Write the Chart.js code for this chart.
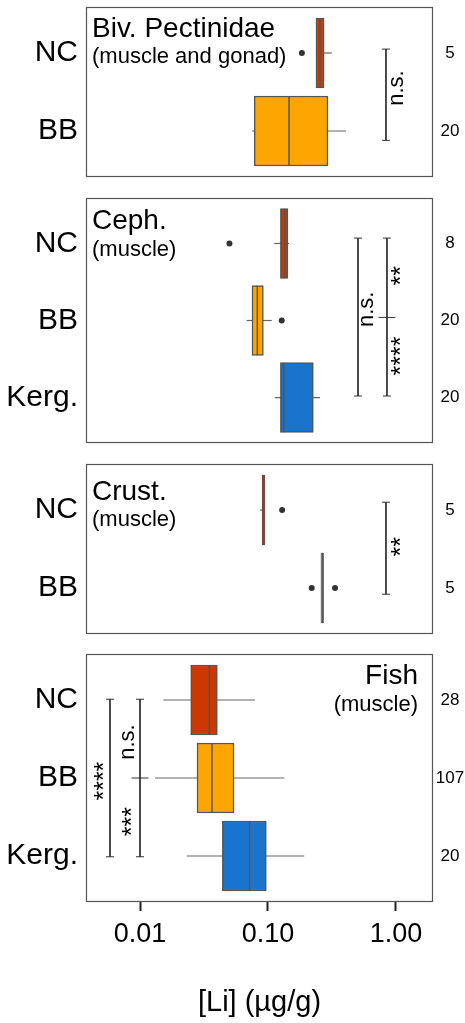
<!DOCTYPE html>
<html>
<head>
<meta charset="utf-8">
<script src="https://cdn.jsdelivr.net/npm/chart.js@4.4.1/dist/chart.umd.min.js"></script>
<style>
  html, body { margin: 0; padding: 0; background: #fff; }
  #wrap { position: relative; width: 465px; height: 1023px; }
  canvas { position: absolute; left: 0; }
</style>
</head>
<body>
<div id="wrap">
  <canvas id="biv" width="465" height="178" style="top:3px"></canvas>
  <canvas id="ceph" width="465" height="253" style="top:194px"></canvas>
  <canvas id="crust" width="465" height="178" style="top:460px"></canvas>
  <canvas id="fish" width="465" height="373" style="top:650px"></canvas>
</div>
<script>
// values (log scale, ug/g)
const xTickValues = [0.01, 0.1, 1];
const xTickLabels = ['0.01', '0.10', '1.00'];
const xAxisTitle = '[Li] (µg/g)';

// Biv. Pectinidae
const bivGroups = ['NC', 'BB'];
const bivN = [5, 20];
const bivLow = [0.237, 0.075];
const bivQ1 = [0.237, 0.078];
const bivMed = [0.255, 0.146];
const bivQ3 = [0.274, 0.294];
const bivHigh = [0.315, 0.407];
const bivOut = [[0.184], []];
const bivSig = ['n.s.'];

// Ceph.
const cephGroups = ['NC', 'BB', 'Kerg.'];
const cephN = [8, 20, 20];
const cephLow = [0.112, 0.068, 0.113];
const cephQ1 = [0.125, 0.075, 0.125];
const cephMed = [0.135, 0.0825, 0.1325];
const cephQ3 = [0.143, 0.092, 0.226];
const cephHigh = [0.146, 0.107, 0.255];
const cephOut = [[0.050], [0.128], []];
const cephSig = ['n.s.', '**', '****'];

// Crust.
const crustGroups = ['NC', 'BB'];
const crustN = [5, 5];
const crustLow = [0.0866, 0.259];
const crustQ1 = [0.0900, 0.259];
const crustMed = [0.092, 0.266];
const crustQ3 = [0.0945, 0.273];
const crustHigh = [0.0945, 0.273];
const crustOut = [[0.129], [0.2195, 0.334]];
const crustSig = ['**'];

// Fish
const fishGroups = ['NC', 'BB', 'Kerg.'];
const fishN = [28, 107, 20];
const fishLow = [0.0152, 0.0131, 0.0232];
const fishQ1 = [0.0249, 0.0279, 0.0440];
const fishMed = [0.0348, 0.0365, 0.0719];
const fishQ3 = [0.0402, 0.0543, 0.0970];
const fishHigh = [0.0791, 0.134, 0.192];
const fishOut = [[], [], []];
const fishSig = ['****', 'n.s.', '***'];

// styles and annotation placement
const FONT = "'Liberation Sans', Arial, Helvetica, sans-serif";
const groupColor = { 'NC': '#CD3700', 'BB': '#FFA500', 'Kerg.': '#1874CD' };
const edge = '#555555';
const ink = '#333333';
const X_MIN = 0.003785, X_MAX = 1.946;

const panels = [
  { id: 'biv', title: 'Biv. Pectinidae', sub: '(muscle and gonad)', titleDy: 30, subDy: 56, align: 'left', boxBorder: 1.5,
    groups: bivGroups, n: bivN, low: bivLow, q1: bivQ1, med: bivMed, q3: bivQ3, high: bivHigh, out: bivOut, sig: bivSig,
    brackets: [{ x: 0.835, y0: 0.95, y1: 2.12 }],
    notes: [{ x: 1.02, y: 1.45 }] },
  { id: 'ceph', title: 'Ceph.', sub: '(muscle)', titleDy: 31, subDy: 58, align: 'left', boxBorder: 1.5,
    groups: cephGroups, n: cephN, low: cephLow, q1: cephQ1, med: cephMed, q3: cephQ3, high: cephHigh, out: cephOut, sig: cephSig,
    brackets: [{ x: 0.505, y0: 0.93, y1: 2.98 }, { x: 0.85, y0: 0.93, y1: 2.98, mid: 1.96 }],
    notes: [{ x: 0.593, y: 1.855 }, { x: 1.114, y: 1.42 }, { x: 1.114, y: 2.46 }] },
  { id: 'crust', title: 'Crust.', sub: '(muscle)', titleDy: 36, subDy: 62, align: 'left', boxBorder: 0.8,
    groups: crustGroups, n: crustN, low: crustLow, q1: crustQ1, med: crustMed, q3: crustQ3, high: crustHigh, out: crustOut, sig: crustSig,
    brackets: [{ x: 0.835, y0: 0.9, y1: 2.08 }],
    notes: [{ x: 1.114, y: 1.47 }] },
  { id: 'fish', title: 'Fish', sub: '(muscle)', titleDy: 30, subDy: 57, align: 'right', xAxis: true, boxBorder: 1.5,
    groups: fishGroups, n: fishN, low: fishLow, q1: fishQ1, med: fishMed, q3: fishQ3, high: fishHigh, out: fishOut, sig: fishSig,
    brackets: [{ x: 0.00583, y0: 0.99, y1: 3.01 }, { x: 0.01, y0: 0.99, y1: 3.01, mid: 2.0 }],
    notes: [{ x: 0.00533, y: 2.04 }, { x: 0.00806, y: 1.54 }, { x: 0.00881, y: 2.56 }] }
];

function panelText(p) {
  return {
    id: 'panelText',
    afterDraw(chart) {
      const { ctx, chartArea: a, scales: { x, y } } = chart;
      ctx.save();
      ctx.strokeStyle = edge;
      ctx.lineWidth = 1.2;
      ctx.strokeRect(a.left + 0.5, a.top + 0.5, a.right - a.left - 1, a.bottom - a.top - 1);

      ctx.fillStyle = '#000';
      ctx.textBaseline = 'alphabetic';
      ctx.textAlign = p.align;
      const tx = p.align === 'left' ? a.left + 6 : a.right - 15;
      ctx.font = '28px ' + FONT;
      ctx.fillText(p.title, tx, a.top + p.titleDy);
      ctx.font = '22px ' + FONT;
      ctx.fillText(p.sub, tx, a.top + p.subDy);

      // sample sizes at the right
      ctx.font = '17px ' + FONT;
      ctx.textAlign = 'center';
      ctx.textBaseline = 'middle';
      p.n.forEach((v, i) => ctx.fillText(String(v), a.right + 17, y.getPixelForValue(i + 1)));

      // significance labels, rotated
      p.notes.forEach((nt, i) => {
        const s = p.sig[i];
        ctx.save();
        ctx.translate(x.getPixelForValue(nt.x), y.getPixelForValue(nt.y));
        ctx.rotate(-Math.PI / 2);
        ctx.font = (s.startsWith('*') ? '25px ' : '22px ') + FONT;
        ctx.fillText(s, 0, 0);
        ctx.restore();
      });
      ctx.restore();
    }
  };
}

function makePanel(p) {
  const rows = p.groups.map((g, i) => i + 1);
  const datasets = [];

  // whiskers (drawn under the boxes)
  p.groups.forEach((g, i) => {
    datasets.push({
      type: 'line', order: 5, showLine: true,
      data: [{ x: p.low[i], y: i + 1 }, { x: p.high[i], y: i + 1 }],
      borderColor: '#666', borderWidth: 1.2, pointRadius: 0
    });
  });

  // boxes
  datasets.push({
    type: 'bar', indexAxis: 'y', order: 4,
    data: p.groups.map((g, i) => ({ x: [p.q1[i], p.q3[i]], y: i + 1 })),
    backgroundColor: p.groups.map(g => groupColor[g]),
    borderColor: edge, borderWidth: p.boxBorder, borderSkipped: false,
    barThickness: 70
  });

  // medians
  p.groups.forEach((g, i) => {
    datasets.push({
      type: 'line', order: 3, showLine: true,
      data: [{ x: p.med[i], y: i + 1 - 0.45 }, { x: p.med[i], y: i + 1 + 0.45 }],
      borderColor: edge, borderWidth: p.boxBorder, pointRadius: 0
    });
  });

  // outliers
  datasets.push({
    type: 'scatter', order: 2,
    data: p.out.flatMap((arr, i) => arr.map(v => ({ x: v, y: i + 1 }))),
    pointRadius: 3, backgroundColor: ink, borderWidth: 0
  });

  // significance brackets
  p.brackets.forEach(b => {
    datasets.push({
      type: 'line', order: 1, showLine: true,
      data: [{ x: b.x, y: b.y0 }, { x: b.x, y: b.y1 }],
      borderColor: ink, borderWidth: 1,
      pointStyle: 'line', pointRadius: 4, pointBorderColor: ink, pointBorderWidth: 1
    });
    if (b.mid !== undefined) {
      datasets.push({
        type: 'scatter', order: 1,
        data: [{ x: b.x, y: b.mid }],
        pointStyle: 'line', pointRadius: 8.5, borderColor: ink, borderWidth: 1
      });
    }
  });

  const xScale = {
    type: 'logarithmic', min: X_MIN, max: X_MAX, offset: false, beginAtZero: false,
    display: !!p.xAxis,
    afterBuildTicks: s => { s.ticks = xTickValues.map(v => ({ value: v })); },
    ticks: {
      callback: (v, i) => xTickLabels[i],
      font: { family: FONT, size: 27 }, color: '#000', padding: 7, maxRotation: 0
    },
    grid: { drawOnChartArea: false, drawTicks: true, tickLength: 9, tickWidth: 2, tickColor: '#222', offset: false },
    border: { display: false },
    title: { display: true, text: xAxisTitle, font: { family: FONT, size: 29 }, color: '#000', padding: { top: 0, bottom: 3 } }
  };
  if (p.xAxis) xScale.afterFit = s => { s.height = 121; };

  new Chart(document.getElementById(p.id), {
    type: 'scatter',
    data: { datasets },
    options: {
      responsive: false,
      animation: false,
      events: [],
      layout: { autoPadding: false, padding: { top: 4, bottom: p.xAxis ? 0 : 4, left: 0, right: 32 } },
      plugins: { legend: { display: false }, tooltip: { enabled: false } },
      scales: {
        x: xScale,
        y: {
          type: 'linear', reverse: true, offset: false, bounds: 'data', grace: 0,
          min: 0.41, max: p.groups.length + 0.59,
          afterBuildTicks: s => { s.ticks = rows.map(v => ({ value: v })); },
          afterFit: s => { s.width = 86; s.paddingTop = 0; s.paddingBottom = 0; },
          ticks: {
            callback: (v, i) => p.groups[i],
            font: { family: FONT, size: 30 }, color: '#000', padding: 8
          },
          grid: { display: false, drawTicks: false, offset: false },
          border: { display: false }
        }
      }
    },
    plugins: [panelText(p)]
  });
}

panels.forEach(makePanel);
</script>
</body>
</html>
